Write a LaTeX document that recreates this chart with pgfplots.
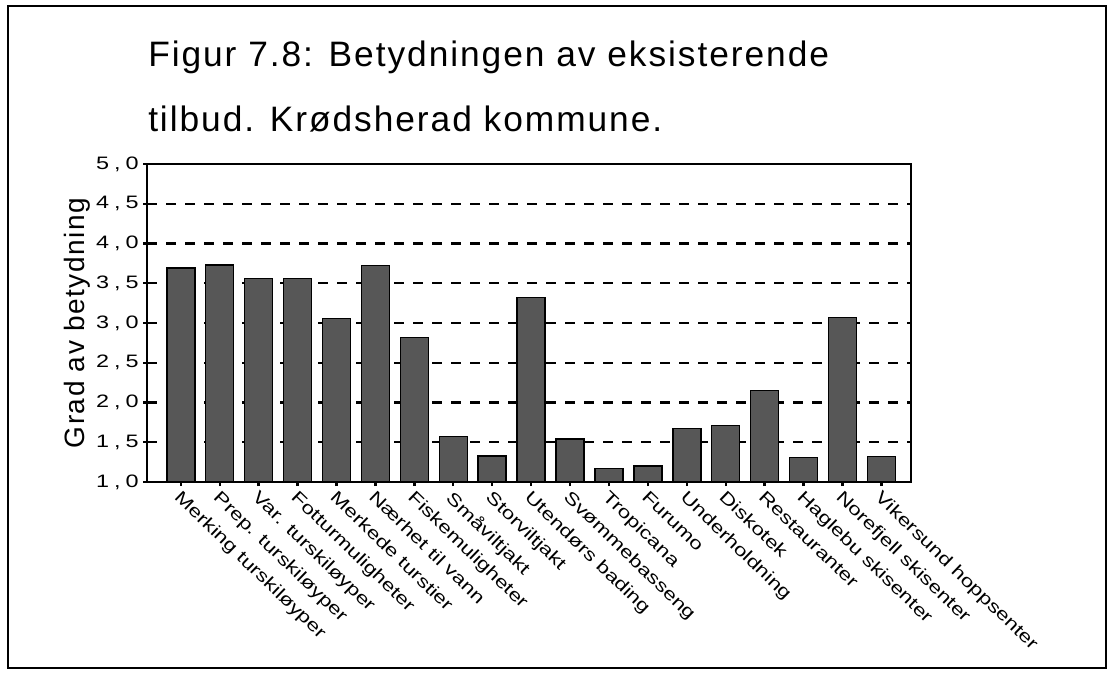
\documentclass[border=0pt]{standalone}
\usepackage{fontspec}
\setmainfont{Liberation Sans}
\newfontfamily\titlefont{Liberation Sans}[LetterSpace=5.5]
\newfontfamily\tickfont{Liberation Sans}[FakeStretch=1.3]
\usepackage{pgfplots}
\pgfplotsset{compat=1.18}
\newcommand{\tl}[2]{#1\hspace{0.28em},\hspace{0.28em}#2}
\begin{document}
\begin{tikzpicture}
\begin{scope}[x=0.75pt,y=-0.75pt]
\path (0,0) rectangle (1110,673);
\draw[line width=1.6pt] (8,6) rectangle (1106,668);
\node[anchor=base west, inner sep=0pt, font=\titlefont\fontsize{26.5}{30}\selectfont] at (148,66.7) {Figur 7.8: Betydningen av eksisterende};
\node[anchor=base west, inner sep=0pt, font=\titlefont\fontsize{26.5}{30}\selectfont] at (148,131.7) {tilbud. Krødsherad kommune.};
\end{scope}
\begin{axis}[
  at={(110.25pt,-361.5pt)}, anchor=south west,
  scale only axis, width=573pt, height=238.5pt,
  xmin=-0.869, xmax=18.76, ymin=1, ymax=5,
  ybar, bar width=21pt,
  xtick=data, xtick pos=bottom, ytick pos=left,
  ytick={1,1.5,2,2.5,3,3.5,4,4.5,5},
  yticklabels={{\tl10},{\tl15},{\tl20},{\tl25},{\tl30},{\tl35},{\tl40},{\tl45},{\tl50}},
  xticklabels={Merking turskiløyper,Prep. turskiløyper,Var. turskiløyper,Fotturmuligheter,Merkede turstier,Nærhet til vann,Fiskemuligheter,Småviltjakt,Storviltjakt,Utendørs bading,Svømmebasseng,Tropicana,Furumo,Underholdning,Diskotek,Restauranter,Haglebu skisenter,Norefjell skisenter,Vikersund hoppsenter},
  tick align=outside, major tick length=3pt,
  tick style={line width=1.8pt, black},
  xticklabel style={font=\tickfont\fontsize{13}{14}\selectfont, rotate=-44, anchor=north west, inner sep=1pt, xshift=1.5pt},
  yticklabel style={font=\tickfont\fontsize{13.5}{14}\selectfont, inner sep=0pt, xshift=-3pt},
  ylabel={Grad av betydning},
  ylabel style={font=\titlefont\fontsize{21}{24}\selectfont, inner sep=0pt, xshift=0pt, yshift=4pt},
  ymajorgrids,
  grid style={black, line width=1.6pt, dash pattern=on 7.5pt off 6.75pt},
  axis line style={line width=0.9pt},
]
\addplot[fill=black!66, draw=black, line width=1.1pt, bar shift=0pt] coordinates {
(0,3.69) (1,3.73) (2,3.56) (3,3.56) (4,3.06) (5,3.72) (6,2.82) (7,1.57) (8,1.33) (9,3.32)
(10,1.54) (11,1.17) (12,1.20) (13,1.67) (14,1.71) (15,2.15) (16,1.31) (17,3.07) (18,1.32)};
\draw[line width=2pt, line cap=rect] (rel axis cs:0,1) -- (rel axis cs:0,0) -- (rel axis cs:1,0);
\end{axis}
\end{tikzpicture}
\end{document}
